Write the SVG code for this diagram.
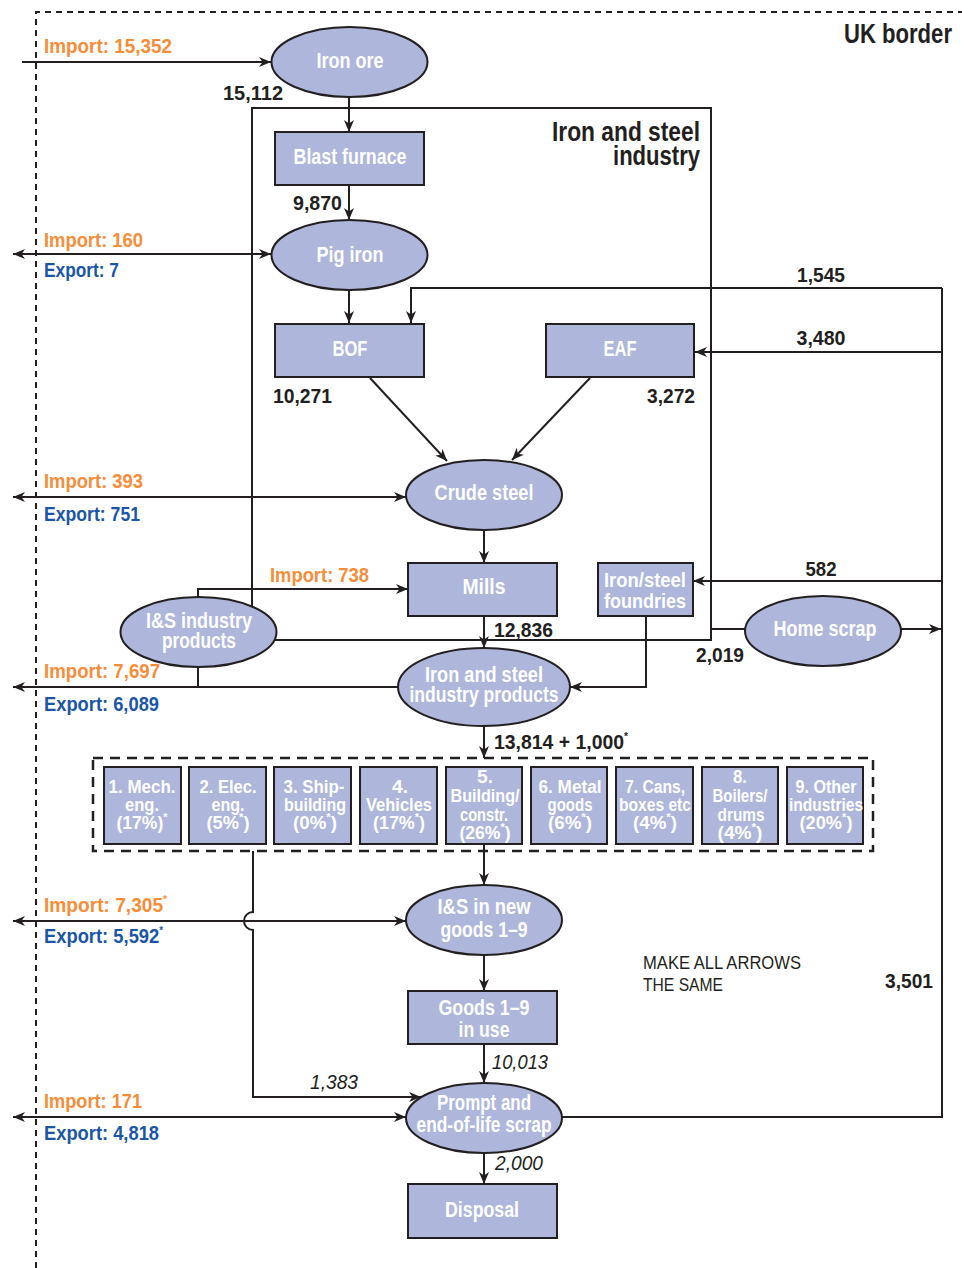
<svg xmlns="http://www.w3.org/2000/svg" width="962" height="1268" viewBox="0 0 962 1268">
<defs>
<style>
text{font-family:'Liberation Sans',Arial,sans-serif;font-weight:bold}
.n{fill:#AEB6DC;stroke:#231F20;stroke-width:2}
.nt{fill:#fff;font-size:22px;text-anchor:middle}
.gt{fill:#fff;font-size:18px;text-anchor:middle}
.imp{fill:#F68D39;font-size:21px}
.exp{fill:#1A55A6;font-size:21px}
.num{fill:#231F20;font-size:21px}
.it{fill:#231F20;font-size:20px;font-style:italic;font-weight:normal}
.ttl{fill:#231F20;font-size:27px;text-anchor:end}
.note{fill:#231F20;font-size:18px;font-weight:normal}
.ln{fill:none;stroke:#231F20;stroke-width:2}
.arr{marker-end:url(#a)}
.dbl{marker-start:url(#a);marker-end:url(#a)}
.sup{font-size:11px}
</style>
<marker id="a" markerWidth="14" markerHeight="12" refX="13" refY="6" orient="auto-start-reverse" markerUnits="userSpaceOnUse">
<path d="M1,1 L13,6 L1,11 L4.5,6 z" fill="#231F20"/>
</marker>
</defs>
<rect width="962" height="1268" fill="#fff"/>
<g id="uk-border">
<path d="M36,1268 V12 H962" fill="none" stroke="#231F20" stroke-width="2" stroke-dasharray="6,5"/>
<text class="ttl" x="952" y="43" textLength="108" lengthAdjust="spacingAndGlyphs">UK border</text>
</g>
<g id="industry-label">
<text class="ttl" x="700" y="141" textLength="148" lengthAdjust="spacingAndGlyphs">Iron and steel</text>
<text class="ttl" x="700" y="165" textLength="87" lengthAdjust="spacingAndGlyphs">industry</text>
</g>
<g id="connectors">
<path class="ln" d="M252,606 V108 H711 V640 H275"/>
<path class="ln arr" d="M22,62 H271"/>
<path class="ln arr" d="M349,97 V132"/>
<path class="ln arr" d="M349,185 V220"/>
<path class="ln dbl" d="M13,254 H271"/>
<path class="ln arr" d="M349,290 V323"/>
<path class="ln" d="M562,1117 H942 V288"/>
<path class="ln arr" d="M942,288 H411 V323"/>
<path class="ln arr" d="M942,352 H695"/>
<path class="ln arr" d="M370,378 L447,461"/>
<path class="ln arr" d="M590,378 L512,460"/>
<path class="ln dbl" d="M13,497 H406"/>
<path class="ln arr" d="M484,530 V563"/>
<path class="ln arr" d="M198,597 V589 H408"/>
<path class="ln arr" d="M484,616 V648"/>
<path class="ln" d="M711,629 H745"/>
<path class="ln arr" d="M901,629 H941"/>
<path class="ln arr" d="M942,581 H693"/>
<path class="ln arr" d="M646,616 V687 H570"/>
<path class="ln arr" d="M398,687 H13"/>
<path class="ln" d="M198,667 V687"/>
<path class="ln arr" d="M484,726 V758"/>
<path class="ln arr" d="M484,844 V885"/>
<path class="ln arr" d="M253,851 V912 A9,9 0 0,0 253,930 V1097 H421"/>
<path class="ln dbl" d="M13,921 H406"/>
<path class="ln arr" d="M484,955 V991"/>
<path class="ln arr" d="M484,1044 V1083"/>
<path class="ln dbl" d="M13,1117 H406"/>
<path class="ln arr" d="M484,1153 V1184"/>
</g>
<g id="iron-ore"><ellipse class="n" cx="349.5" cy="62" rx="78" ry="35"/><text class="nt" x="350" y="68" textLength="67" lengthAdjust="spacingAndGlyphs">Iron ore</text></g>
<g id="blast-furnace"><rect class="n" x="275" y="132" width="149" height="53"/><text class="nt" x="350" y="164" textLength="113" lengthAdjust="spacingAndGlyphs">Blast furnace</text></g>
<g id="pig-iron"><ellipse class="n" cx="349.5" cy="255" rx="78" ry="35"/><text class="nt" x="350" y="262" textLength="67" lengthAdjust="spacingAndGlyphs">Pig iron</text></g>
<g id="bof"><rect class="n" x="275" y="324" width="149" height="53"/><text class="nt" x="350" y="356" textLength="35" lengthAdjust="spacingAndGlyphs">BOF</text></g>
<g id="eaf"><rect class="n" x="546" y="324" width="148" height="53"/><text class="nt" x="620" y="356" textLength="33" lengthAdjust="spacingAndGlyphs">EAF</text></g>
<g id="crude-steel"><ellipse class="n" cx="484" cy="495" rx="78" ry="35"/><text class="nt" x="484" y="500" textLength="99" lengthAdjust="spacingAndGlyphs">Crude steel</text></g>
<g id="mills"><rect class="n" x="408" y="563" width="149" height="53"/><text class="nt" x="484" y="594" textLength="43" lengthAdjust="spacingAndGlyphs">Mills</text></g>
<g id="foundries"><rect class="n" x="598" y="563" width="95" height="53"/><text class="nt" x="645" y="587" style="font-size:21px" textLength="82" lengthAdjust="spacingAndGlyphs">Iron/steel</text><text class="nt" x="645" y="608" style="font-size:21px" textLength="82" lengthAdjust="spacingAndGlyphs">foundries</text></g>
<g id="is-industry-products"><ellipse class="n" cx="198.5" cy="632" rx="78" ry="35"/><text class="nt" x="199" y="628" textLength="106" lengthAdjust="spacingAndGlyphs">I&amp;S industry</text><text class="nt" x="199" y="648" textLength="74" lengthAdjust="spacingAndGlyphs">products</text></g>
<g id="home-scrap"><ellipse class="n" cx="823" cy="631" rx="78" ry="35"/><text class="nt" x="825" y="636" textLength="103" lengthAdjust="spacingAndGlyphs">Home scrap</text></g>
<g id="is-products"><ellipse class="n" cx="484" cy="687" rx="86" ry="39"/><text class="nt" x="484" y="682" textLength="118" lengthAdjust="spacingAndGlyphs">Iron and steel</text><text class="nt" x="484" y="702" textLength="149" lengthAdjust="spacingAndGlyphs">industry products</text></g>
<g id="goods-sectors">
<rect x="93" y="758" width="780" height="93" fill="none" stroke="#231F20" stroke-width="2.5" stroke-dasharray="10,7"/>
<g id="g1"><rect class="n" x="104" y="767" width="77" height="77"/><text class="gt" x="142" y="793" textLength="67" lengthAdjust="spacingAndGlyphs">1. Mech.</text><text class="gt" x="142" y="811" textLength="34" lengthAdjust="spacingAndGlyphs">eng.</text><text class="gt" x="142" y="829" textLength="51" lengthAdjust="spacingAndGlyphs">(17%)<tspan class="sup" dy="-8">*</tspan></text></g>
<g id="g2"><rect class="n" x="189" y="767" width="77" height="77"/><text class="gt" x="228" y="793" textLength="57" lengthAdjust="spacingAndGlyphs">2. Elec.</text><text class="gt" x="228" y="811" textLength="33" lengthAdjust="spacingAndGlyphs">eng.</text><text class="gt" x="228" y="829" textLength="43" lengthAdjust="spacingAndGlyphs">(5%<tspan class="sup" dy="-8">*</tspan><tspan dy="8">)</tspan></text></g>
<g id="g3"><rect class="n" x="274" y="767" width="77" height="77"/><text class="gt" x="314" y="793" textLength="61" lengthAdjust="spacingAndGlyphs">3. Ship-</text><text class="gt" x="315" y="811" textLength="62" lengthAdjust="spacingAndGlyphs">building</text><text class="gt" x="315" y="829" textLength="44" lengthAdjust="spacingAndGlyphs">(0%<tspan class="sup" dy="-8">*</tspan><tspan dy="8">)</tspan></text></g>
<g id="g4"><rect class="n" x="360" y="767" width="77" height="77"/><text class="gt" x="400" y="793" textLength="16" lengthAdjust="spacingAndGlyphs">4.</text><text class="gt" x="399" y="811" textLength="66" lengthAdjust="spacingAndGlyphs">Vehicles</text><text class="gt" x="399" y="829" textLength="52" lengthAdjust="spacingAndGlyphs">(17%<tspan class="sup" dy="-8">*</tspan><tspan dy="8">)</tspan></text></g>
<g id="g5"><rect class="n" x="446" y="767" width="76" height="77"/><text class="gt" x="485" y="783" textLength="16" lengthAdjust="spacingAndGlyphs">5.</text><text class="gt" x="485" y="802" textLength="69" lengthAdjust="spacingAndGlyphs">Building/</text><text class="gt" x="484" y="821" textLength="48" lengthAdjust="spacingAndGlyphs">constr.</text><text class="gt" x="485" y="839" textLength="51" lengthAdjust="spacingAndGlyphs">(26%<tspan class="sup" dy="-8">*</tspan><tspan dy="8">)</tspan></text></g>
<g id="g6"><rect class="n" x="531" y="767" width="76" height="77"/><text class="gt" x="570" y="793" textLength="63" lengthAdjust="spacingAndGlyphs">6. Metal</text><text class="gt" x="570" y="811" textLength="45" lengthAdjust="spacingAndGlyphs">goods</text><text class="gt" x="570" y="829" textLength="44" lengthAdjust="spacingAndGlyphs">(6%<tspan class="sup" dy="-8">*</tspan><tspan dy="8">)</tspan></text></g>
<g id="g7"><rect class="n" x="616" y="767" width="77" height="77"/><text class="gt" x="655" y="793" textLength="60" lengthAdjust="spacingAndGlyphs">7. Cans,</text><text class="gt" x="655" y="811" textLength="72" lengthAdjust="spacingAndGlyphs">boxes etc</text><text class="gt" x="655" y="829" textLength="44" lengthAdjust="spacingAndGlyphs">(4%<tspan class="sup" dy="-8">*</tspan><tspan dy="8">)</tspan></text></g>
<g id="g8"><rect class="n" x="702" y="767" width="76" height="77"/><text class="gt" x="740" y="783" textLength="14" lengthAdjust="spacingAndGlyphs">8.</text><text class="gt" x="740" y="802" textLength="55" lengthAdjust="spacingAndGlyphs">Boilers/</text><text class="gt" x="741" y="821" textLength="47" lengthAdjust="spacingAndGlyphs">drums</text><text class="gt" x="740" y="839" textLength="45" lengthAdjust="spacingAndGlyphs">(4%<tspan class="sup" dy="-8">*</tspan><tspan dy="8">)</tspan></text></g>
<g id="g9"><rect class="n" x="787" y="767" width="76" height="77"/><text class="gt" x="826" y="793" textLength="61" lengthAdjust="spacingAndGlyphs">9. Other</text><text class="gt" x="826" y="811" textLength="74" lengthAdjust="spacingAndGlyphs">industries</text><text class="gt" x="826" y="829" textLength="53" lengthAdjust="spacingAndGlyphs">(20%<tspan class="sup" dy="-8">*</tspan><tspan dy="8">)</tspan></text></g>
</g>
<g id="is-new-goods"><ellipse class="n" cx="484" cy="920" rx="78" ry="35"/><text class="nt" x="484" y="914" textLength="93" lengthAdjust="spacingAndGlyphs">I&amp;S in new</text><text class="nt" x="484" y="937" textLength="87" lengthAdjust="spacingAndGlyphs">goods 1–9</text></g>
<g id="goods-in-use"><rect class="n" x="408" y="991" width="149" height="53"/><text class="nt" x="484" y="1015" textLength="91" lengthAdjust="spacingAndGlyphs">Goods 1–9</text><text class="nt" x="484" y="1037" textLength="51" lengthAdjust="spacingAndGlyphs">in use</text></g>
<g id="prompt-scrap"><ellipse class="n" cx="484" cy="1118" rx="78" ry="35"/><text class="nt" x="484" y="1110" textLength="94" lengthAdjust="spacingAndGlyphs">Prompt and</text><text class="nt" x="484" y="1132" textLength="135" lengthAdjust="spacingAndGlyphs">end-of-life scrap</text></g>
<g id="disposal"><rect class="n" x="408" y="1184" width="149" height="54"/><text class="nt" x="482" y="1217" textLength="74" lengthAdjust="spacingAndGlyphs">Disposal</text></g>
<g id="labels">
<text class="imp" x="44" y="53" textLength="128" lengthAdjust="spacingAndGlyphs">Import: 15,352</text>
<text class="imp" x="44" y="247" textLength="99" lengthAdjust="spacingAndGlyphs">Import: 160</text>
<text class="exp" x="44" y="277" textLength="75" lengthAdjust="spacingAndGlyphs">Export: 7</text>
<text class="imp" x="44" y="488" textLength="99" lengthAdjust="spacingAndGlyphs">Import: 393</text>
<text class="exp" x="44" y="521" textLength="96" lengthAdjust="spacingAndGlyphs">Export: 751</text>
<text class="imp" x="270" y="582" textLength="99" lengthAdjust="spacingAndGlyphs">Import: 738</text>
<text class="imp" x="44" y="678" textLength="116" lengthAdjust="spacingAndGlyphs">Import: 7,697</text>
<text class="exp" x="44" y="711" textLength="115" lengthAdjust="spacingAndGlyphs">Export: 6,089</text>
<text class="imp" x="44" y="912" textLength="123" lengthAdjust="spacingAndGlyphs">Import: 7,305<tspan class="sup" dy="-9">*</tspan></text>
<text class="exp" x="44" y="943" textLength="119" lengthAdjust="spacingAndGlyphs">Export: 5,592<tspan class="sup" dy="-9">*</tspan></text>
<text class="imp" x="44" y="1108" textLength="98" lengthAdjust="spacingAndGlyphs">Import: 171</text>
<text class="exp" x="44" y="1140" textLength="115" lengthAdjust="spacingAndGlyphs">Export: 4,818</text>
<text class="num" x="283" y="100" text-anchor="end" textLength="60" lengthAdjust="spacingAndGlyphs">15,112</text>
<text class="num" x="342" y="210" text-anchor="end" textLength="49" lengthAdjust="spacingAndGlyphs">9,870</text>
<text class="num" x="273" y="403" textLength="59" lengthAdjust="spacingAndGlyphs">10,271</text>
<text class="num" x="695" y="403" text-anchor="end" textLength="48" lengthAdjust="spacingAndGlyphs">3,272</text>
<text class="num" x="821" y="282" text-anchor="middle" textLength="48" lengthAdjust="spacingAndGlyphs">1,545</text>
<text class="num" x="821" y="345" text-anchor="middle" textLength="49" lengthAdjust="spacingAndGlyphs">3,480</text>
<text class="num" x="821" y="576" text-anchor="middle" textLength="31" lengthAdjust="spacingAndGlyphs">582</text>
<text class="num" x="494" y="637" textLength="59" lengthAdjust="spacingAndGlyphs">12,836</text>
<text class="num" x="696" y="662" textLength="48" lengthAdjust="spacingAndGlyphs">2,019</text>
<text class="num" x="494" y="749" textLength="134" lengthAdjust="spacingAndGlyphs">13,814 + 1,000<tspan class="sup" dy="-9">*</tspan></text>
<text class="num" x="933" y="988" text-anchor="end" textLength="48" lengthAdjust="spacingAndGlyphs">3,501</text>
<text class="it" x="492" y="1069" textLength="56" lengthAdjust="spacingAndGlyphs">10,013</text>
<text class="it" x="310" y="1089" textLength="48" lengthAdjust="spacingAndGlyphs">1,383</text>
<text class="it" x="495" y="1170" textLength="48" lengthAdjust="spacingAndGlyphs">2,000</text>
<text class="note" x="643" y="969" textLength="158" lengthAdjust="spacingAndGlyphs">MAKE ALL ARROWS</text>
<text class="note" x="643" y="991" textLength="80" lengthAdjust="spacingAndGlyphs">THE SAME</text>
</g>
</svg>
